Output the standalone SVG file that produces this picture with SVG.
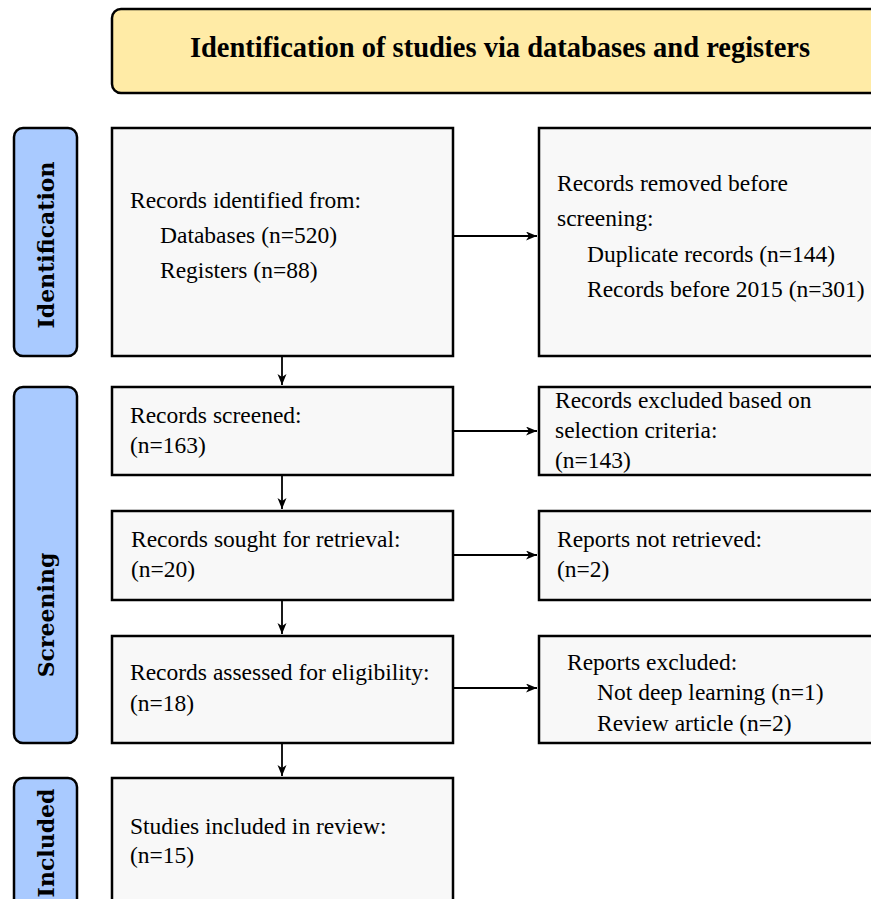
<svg xmlns="http://www.w3.org/2000/svg" width="871" height="899" viewBox="0 0 871 899">
<defs>
<marker id="ah" markerWidth="12" markerHeight="10" refX="11" refY="4.5" orient="auto" markerUnits="userSpaceOnUse">
<path d="M0,0 L11,4.5 L0,9 L3,4.5 z" fill="#000"/>
</marker>
<style>
.box{fill:#f8f8f8;stroke:#000;stroke-width:2.5}
.side{fill:#a9caff;stroke:#000;stroke-width:2.5}
.hdr{fill:#ffeba6;stroke:#000;stroke-width:2.5}
.t{font-family:"Liberation Serif","Times New Roman",serif;font-size:23.5px;fill:#000}
.h{font-family:"Liberation Serif","Times New Roman",serif;font-size:28.5px;font-weight:bold;fill:#000}
.s{font-family:"DejaVu Serif",serif;font-size:22px;font-weight:bold;fill:#000}
.c{stroke:#000;stroke-width:1.8;fill:none;marker-end:url(#ah)}
</style>
</defs>
<rect width="871" height="899" fill="#fff"/>
<g id="header">
<rect class="hdr" x="112" y="9" width="780" height="84" rx="9"/>
<text class="h" x="500" y="57" text-anchor="middle">Identification of studies via databases and registers</text>
</g>
<g id="side-identification">
<rect class="side" x="14" y="128" width="63" height="228" rx="9"/>
<text class="s" transform="translate(54,245) rotate(-90)" text-anchor="middle">Identification</text>
</g>
<g id="side-screening">
<rect class="side" x="14" y="387" width="63" height="356" rx="9"/>
<text class="s" transform="translate(54,615) rotate(-90)" text-anchor="middle">Screening</text>
</g>
<g id="side-included">
<rect class="side" x="14" y="778" width="63" height="140" rx="9"/>
<text class="s" transform="translate(54,843) rotate(-90)" text-anchor="middle">Included</text>
</g>
<g id="identified">
<rect class="box" x="112" y="128" width="341" height="228"/>
<text class="t" x="130" y="208">Records identified from:</text>
<text class="t" x="160" y="243">Databases (n=520)</text>
<text class="t" x="160" y="278">Registers (n=88)</text>
</g>
<g id="removed">
<rect class="box" x="539" y="128" width="345" height="228"/>
<text class="t" x="557" y="191">Records removed before</text>
<text class="t" x="557" y="226">screening:</text>
<text class="t" x="587" y="262">Duplicate records (n=144)</text>
<text class="t" x="587" y="297">Records before 2015 (n=301)</text>
</g>
<g id="screened">
<rect class="box" x="112" y="387" width="341" height="88"/>
<text class="t" x="130" y="423">Records screened:</text>
<text class="t" x="130" y="453">(n=163)</text>
</g>
<g id="excluded-criteria">
<rect class="box" x="539" y="387" width="345" height="88"/>
<text class="t" x="555" y="408">Records excluded based on</text>
<text class="t" x="555" y="438">selection criteria:</text>
<text class="t" x="555" y="468">(n=143)</text>
</g>
<g id="sought">
<rect class="box" x="112" y="511" width="341" height="89"/>
<text class="t" x="131" y="547">Records sought for retrieval:</text>
<text class="t" x="131" y="577">(n=20)</text>
</g>
<g id="not-retrieved">
<rect class="box" x="539" y="511" width="345" height="89"/>
<text class="t" x="557" y="547">Reports not retrieved:</text>
<text class="t" x="557" y="577">(n=2)</text>
</g>
<g id="assessed">
<rect class="box" x="112" y="636" width="341" height="107"/>
<text class="t" x="130" y="680">Records assessed for eligibility:</text>
<text class="t" x="130" y="711">(n=18)</text>
</g>
<g id="reports-excluded">
<rect class="box" x="539" y="636" width="345" height="107"/>
<text class="t" x="567" y="670">Reports excluded:</text>
<text class="t" x="597" y="700">Not deep learning (n=1)</text>
<text class="t" x="597" y="731">Review article (n=2)</text>
</g>
<g id="included">
<rect class="box" x="112" y="778" width="341" height="140"/>
<text class="t" x="130" y="834">Studies included in review:</text>
<text class="t" x="130" y="863">(n=15)</text>
</g>
<g id="connectors">
<line class="c" x1="282" y1="356" x2="282" y2="385"/>
<line class="c" x1="282" y1="475" x2="282" y2="509"/>
<line class="c" x1="282" y1="600" x2="282" y2="634"/>
<line class="c" x1="282" y1="743" x2="282" y2="776"/>
<line class="c" x1="453" y1="236" x2="537" y2="236"/>
<line class="c" x1="453" y1="431" x2="537" y2="431"/>
<line class="c" x1="453" y1="555" x2="537" y2="555"/>
<line class="c" x1="453" y1="688" x2="537" y2="688"/>
</g>
</svg>
